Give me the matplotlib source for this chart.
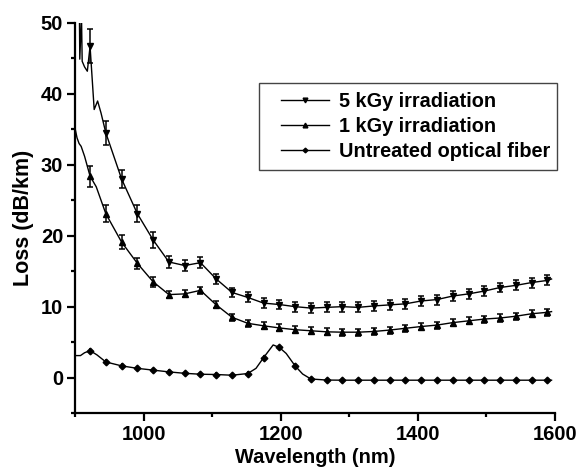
import numpy as np
import matplotlib
matplotlib.use("Agg")
import matplotlib.pyplot as plt
from matplotlib.lines import Line2D
from matplotlib.patches import Rectangle

plt.rcParams['font.family'] = ['Liberation Sans', 'DejaVu Sans']
plt.rcParams['font.weight'] = 'bold'

# wavelengths where markers / error bars sit (nm)
wl = [922, 945, 968, 991, 1014, 1037, 1060, 1083, 1106, 1129, 1152, 1175, 1198, 1221, 1244,
      1267, 1290, 1313, 1336, 1359, 1382, 1405, 1428, 1451, 1474, 1497, 1520, 1543, 1566, 1589]

loss_5kgy = [46.7, 34.5, 28.0, 23.1, 19.4, 16.3, 15.8, 16.2, 13.9, 12.0, 11.3, 10.5, 10.3, 10.0, 9.8,
             9.9, 10.0, 9.9, 10.1, 10.25, 10.4, 10.8, 11.0, 11.5, 11.8, 12.2, 12.7, 13.0, 13.4, 13.7]
err_5kgy = [2.4, 1.7, 1.3, 1.2, 1.1, 0.8, 0.8, 0.8, 0.7, 0.7, 0.7, 0.7, 0.7, 0.7, 0.7,
            0.7, 0.7, 0.7, 0.7, 0.7, 0.7, 0.7, 0.7, 0.7, 0.7, 0.7, 0.7, 0.7, 0.7, 0.7]

loss_1kgy = [28.4, 23.1, 19.1, 16.1, 13.5, 11.7, 11.8, 12.3, 10.25, 8.5, 7.65, 7.3, 7.0, 6.75, 6.6,
             6.45, 6.4, 6.4, 6.5, 6.7, 6.95, 7.2, 7.4, 7.75, 8.0, 8.25, 8.4, 8.65, 9.0, 9.2]
err_1kgy = [1.5, 1.2, 0.95, 0.8, 0.75, 0.5, 0.5, 0.5, 0.5, 0.5, 0.5, 0.5, 0.5, 0.5, 0.5,
            0.5, 0.5, 0.5, 0.5, 0.5, 0.5, 0.5, 0.5, 0.5, 0.5, 0.5, 0.5, 0.5, 0.5, 0.5]

loss_untreated = [3.8, 2.2, 1.65, 1.3, 1.05, 0.8, 0.6, 0.47, 0.43, 0.33, 0.57, 2.8, 4.25, 1.65, -0.2,
                  -0.35, -0.37, -0.37, -0.37, -0.37, -0.37, -0.37, -0.37, -0.37, -0.37, -0.37, -0.37,
                  -0.37, -0.37, -0.37]
err_untreated = [0.35] * 30

# extra points of the continuous traces (between markers)
extra_wl_5kgy = [906.5, 907, 909.5, 910.5, 914, 918, 928, 933, 938, 1595]
extra_loss_5kgy = [51, 44.9, 51, 44.6, 43.8, 43.2, 37.8, 39.0, 37.3, 13.9]

extra_wl_1kgy = [900, 903, 906, 909, 914, 918, 931, 1595]
extra_loss_1kgy = [35.2, 33.8, 33.0, 32.6, 31.2, 29.8, 26.9, 9.3]

extra_wl_untreated = [900, 908, 914, 932, 1164, 1189, 1208, 1232, 1595]
extra_loss_untreated = [3.1, 3.1, 3.5, 3.2, 1.3, 4.6, 3.4, 0.5, -0.37]


def trace(extra_wl, extra_loss, loss):
    x = np.concatenate([wl, extra_wl])
    y = np.concatenate([loss, extra_loss])
    order = np.argsort(x, kind='stable')
    return x[order], y[order]


fig = plt.figure(figsize=(5.79, 4.73), dpi=100)
ax = fig.add_axes([0.1295, 0.1268, 0.829, 0.8246])

series = [
    ("5 kGy irradiation", loss_5kgy, err_5kgy, extra_wl_5kgy, extra_loss_5kgy, 'v', 2.5),
    ("1 kGy irradiation", loss_1kgy, err_1kgy, extra_wl_1kgy, extra_loss_1kgy, '^', 2.5),
    ("Untreated optical fiber", loss_untreated, err_untreated, extra_wl_untreated,
     extra_loss_untreated, 'D', 0),
]

handles = []
for label, loss, err, ewl, eloss, mk, cap in series:
    x, y = trace(ewl, eloss, loss)
    ax.plot(x, y, color='black', lw=1.0)
    ms = 3.4 if mk == 'D' else 4.4
    ax.errorbar(wl, loss, yerr=err, fmt=mk, ms=ms, color='black', ecolor='black',
                elinewidth=1.1, capsize=cap, capthick=1.1)
    handles.append(Line2D([], [], color='black', lw=1.0, marker=mk, ms=ms - 1, label=label))

ax.set_xlim(900, 1600)
ax.set_ylim(-5, 50)
ax.set_xticks([1000, 1200, 1400, 1600])
ax.set_xticks([900, 1100, 1300, 1500], minor=True)
ax.set_yticks([0, 10, 20, 30, 40, 50])
ax.set_yticks([-5, 5, 15, 25, 35, 45], minor=True)

for side in ['top', 'right']:
    ax.spines[side].set_visible(False)
for side in ['left', 'bottom']:
    ax.spines[side].set_linewidth(1.6)

ax.tick_params(which='major', direction='out', length=5.5, width=1.6, labelsize=14.5, pad=3)
ax.tick_params(which='minor', direction='out', length=3, width=1.6)
for lbl in ax.get_xticklabels() + ax.get_yticklabels():
    lbl.set_fontweight('bold')

ax.set_xlabel("Wavelength (nm)", fontsize=14.4, fontweight='bold', labelpad=3)
ax.set_ylabel("Loss (dB/km)", fontsize=15.5, fontweight='bold', labelpad=5)

leg = ax.legend(handles=handles, loc='upper left', bbox_to_anchor=(281 / 579, 1 - 92 / 473),
                bbox_transform=fig.transFigure, frameon=False,
                handlelength=2.4, handletextpad=0.54, borderpad=0, borderaxespad=0,
                labelspacing=0.3, prop={'weight': 'bold', 'size': 14.3})

fig.patches.append(Rectangle((259 / 579, 1 - 170 / 473), (557 - 259) / 579, (170 - 83) / 473,
                             transform=fig.transFigure, fill=False, edgecolor='#444444', lw=1.0))

fig.savefig("out.png", dpi=100)
